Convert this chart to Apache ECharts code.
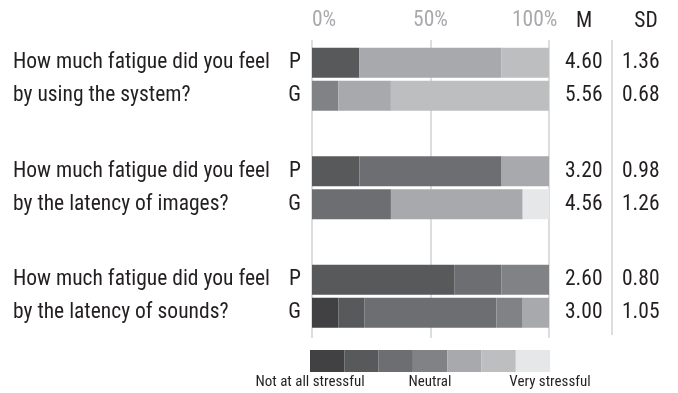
<!DOCTYPE html>
<html>
<head>
<meta charset="utf-8">
<script src="https://cdn.jsdelivr.net/npm/echarts@6/dist/echarts.min.js"></script>
<style>
  html, body { margin: 0; padding: 0; background: #fff; }
  #chart { width: 678px; height: 393px; }
</style>
</head>
<body>
<div id="chart"></div>
<script>
// Survey questions (one row pair per question)
const questions = [
  'How much fatigue did you feel\nby using the system?',
  'How much fatigue did you feel\nby the latency of images?',
  'How much fatigue did you feel\nby the latency of sounds?'
];
const groups = ['P', 'G'];
const levels = ['1', '2', '3', '4', '5', '6', '7'];
const levelColors = ['#414143', '#58595b', '#6d6e71', '#808285', '#a7a9ac', '#bcbec0', '#e6e7e8'];

// Share of answers (%) per level 1..7, one list per question
const sharesP = [
  [0, 20, 0, 0, 60, 20, 0],
  [0, 20, 60, 0, 20, 0, 0],
  [0, 60, 20, 20, 0, 0, 0]
];
const sharesG = [
  [0, 0, 0, 11.1, 22.2, 66.7, 0],
  [0, 0, 33.3, 0, 55.6, 0, 11.1],
  [11.1, 11.1, 55.6, 11.1, 11.1, 0, 0]
];

// Mean and standard deviation per question
const meanP = ['4.60', '3.20', '2.60'];
const sdP = ['1.36', '0.98', '0.80'];
const meanG = ['5.56', '4.56', '3.00'];
const sdG = ['0.68', '1.26', '1.05'];

const percentTicks = [0, 50, 100];
const scaleLabels = ['Not at all stressful', 'Neutral', 'Very stressful'];

const FONT = '"Roboto Condensed", sans-serif';
const INK = '#231f20';
const FS = 21.5;

const sharesByGroup = { P: sharesP, G: sharesG };
const statsByGroup = { P: [meanP, sdP], G: [meanG, sdG] };

const series = [];
groups.forEach(function (g) {
  levels.forEach(function (lv, i) {
    const s = {
      type: 'bar',
      name: lv,
      stack: g,
      xAxisIndex: 0,
      yAxisIndex: 0,
      barWidth: 30,
      barGap: '10%',
      itemStyle: { color: levelColors[i] },
      emphasis: { disabled: true },
      data: sharesByGroup[g].map(function (row) { return row[i]; })
    };
    if (i === 0) {
      s.label = {
        show: true, position: 'left', distance: 11,
        formatter: g, color: INK, fontFamily: FONT, fontSize: FS
      };
    }
    if (i === levels.length - 1) {
      s.label = {
        show: true, position: 'right', distance: 16,
        formatter: function (p) {
          const st = statsByGroup[g];
          return '{m|' + st[0][p.dataIndex] + '}{sd|' + st[1][p.dataIndex] + '}';
        },
        rich: {
          m: { width: 57, align: 'left', color: INK, fontFamily: FONT, fontSize: FS },
          sd: { align: 'left', color: INK, fontFamily: FONT, fontSize: FS }
        }
      };
    }
    series.push(s);
  });
});

const chart = echarts.init(document.getElementById('chart'), null, { renderer: 'canvas' });
chart.setOption({
  animation: false,
  textStyle: { fontFamily: FONT },
  grid: [
    { left: 312, right: 129, top: 25, bottom: 42.5 },
    { left: 312, right: 129, top: 40, bottom: 55 }
  ],
  xAxis: [
    {
      gridIndex: 0, type: 'value', min: 0, max: 100,
      show: false
    },
    {
      gridIndex: 1, type: 'value', min: 0, max: 100, interval: 50,
      position: 'top',
      axisLine: { show: false }, axisTick: { show: false },
      splitLine: { show: true, lineStyle: { color: '#dcdddf', width: 2 } },
      axisLabel: {
        color: '#a7a9ac', fontFamily: FONT, fontSize: FS, margin: 8,
        alignMinLabel: 'left', alignMaxLabel: 'right',
        customValues: percentTicks,
        formatter: function (v) {
          return v === 100 ? '{end|' + v + '%}' : v + '%';
        },
        rich: {
          end: { width: 37, align: 'left', color: '#a7a9ac', fontFamily: FONT, fontSize: FS }
        }
      }
    }
  ],
  yAxis: [
    {
      gridIndex: 0, type: 'category', data: questions, inverse: true,
      axisLine: { show: false }, axisTick: { show: false }, splitLine: { show: false },
      axisLabel: {
        align: 'left', margin: 299, color: INK, fontFamily: FONT,
        fontSize: FS, lineHeight: 33
      }
    },
    { gridIndex: 1, type: 'value', show: false }
  ],
  legend: {
    data: levels,
    left: 310, top: 350, padding: 0,
    itemWidth: 34.3, itemHeight: 22, itemGap: 0,
    icon: 'rect',
    selectedMode: false,
    formatter: function () { return ''; },
    textStyle: { fontSize: 1, padding: 0 }
  },
  graphic: [
    { type: 'line', shape: { x1: 612, y1: 40, x2: 612, y2: 335 },
      style: { stroke: '#dcdddf', lineWidth: 2 }, silent: true },
    { type: 'text', x: 584, y: 22, style: { text: 'M', fill: INK, font: FS + 'px ' + FONT, textAlign: 'center', textVerticalAlign: 'middle' } },
    { type: 'text', x: 646, y: 22, style: { text: 'SD', fill: INK, font: FS + 'px ' + FONT, textAlign: 'center', textVerticalAlign: 'middle' } },
    { type: 'text', x: 310, y: 382, style: { text: scaleLabels[0], fill: INK, font: '15px ' + FONT, textAlign: 'center', textVerticalAlign: 'middle' } },
    { type: 'text', x: 430, y: 382, style: { text: scaleLabels[1], fill: INK, font: '15px ' + FONT, textAlign: 'center', textVerticalAlign: 'middle' } },
    { type: 'text', x: 550, y: 382, style: { text: scaleLabels[2], fill: INK, font: '15px ' + FONT, textAlign: 'center', textVerticalAlign: 'middle' } }
  ],
  series: series
});
</script>
</body>
</html>
